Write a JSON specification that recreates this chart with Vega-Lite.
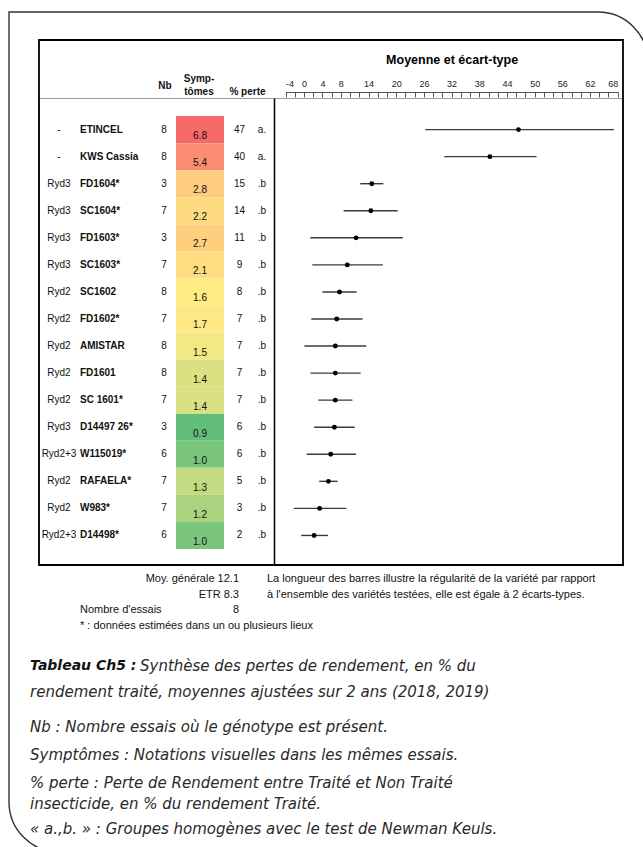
{
  "$schema": "https://vega.github.io/schema/vega-lite/v6.json",
  "width": 584,
  "height": 467,
  "autosize": "none",
  "padding": {"left": 39, "top": 98, "right": 20, "bottom": 282},
  "background": "white",
  "config": {
    "view": {"stroke": "#9a9a9a", "strokeWidth": 1},
    "font": "Liberation Sans",
    "text": {"font": "Liberation Sans", "fontSize": 10, "color": "#111"}
  },
  "datasets": {
    "varietes": [
      {"resistance": "-", "variete": "ETINCEL", "nb": 8, "symptomes": 6.8, "perte": 47, "groupe": "a.", "moyenne": 46.5, "bas": 26.3, "haut": 67.2},
      {"resistance": "-", "variete": "KWS Cassia", "nb": 8, "symptomes": 5.4, "perte": 40, "groupe": "a.", "moyenne": 40.3, "bas": 30.4, "haut": 50.4},
      {"resistance": "Ryd3", "variete": "FD1604*", "nb": 3, "symptomes": 2.8, "perte": 15, "groupe": ".b", "moyenne": 14.7, "bas": 12.2, "haut": 17.2},
      {"resistance": "Ryd3", "variete": "SC1604*", "nb": 7, "symptomes": 2.2, "perte": 14, "groupe": ".b", "moyenne": 14.5, "bas": 8.6, "haut": 20.3},
      {"resistance": "Ryd3", "variete": "FD1603*", "nb": 3, "symptomes": 2.7, "perte": 11, "groupe": ".b", "moyenne": 11.3, "bas": 1.4, "haut": 21.4},
      {"resistance": "Ryd3", "variete": "SC1603*", "nb": 7, "symptomes": 2.1, "perte": 9, "groupe": ".b", "moyenne": 9.4, "bas": 1.8, "haut": 17.1},
      {"resistance": "Ryd2", "variete": "SC1602", "nb": 8, "symptomes": 1.6, "perte": 8, "groupe": ".b", "moyenne": 7.7, "bas": 4.0, "haut": 11.4},
      {"resistance": "Ryd2", "variete": "FD1602*", "nb": 7, "symptomes": 1.7, "perte": 7, "groupe": ".b", "moyenne": 7.1, "bas": 1.6, "haut": 12.7},
      {"resistance": "Ryd2", "variete": "AMISTAR", "nb": 8, "symptomes": 1.5, "perte": 7, "groupe": ".b", "moyenne": 6.8, "bas": 0.1, "haut": 13.5},
      {"resistance": "Ryd2", "variete": "FD1601", "nb": 8, "symptomes": 1.4, "perte": 7, "groupe": ".b", "moyenne": 6.8, "bas": 1.4, "haut": 12.3},
      {"resistance": "Ryd2", "variete": "SC 1601*", "nb": 7, "symptomes": 1.4, "perte": 7, "groupe": ".b", "moyenne": 6.8, "bas": 3.1, "haut": 10.5},
      {"resistance": "Ryd3", "variete": "D14497 26*", "nb": 3, "symptomes": 0.9, "perte": 6, "groupe": ".b", "moyenne": 6.6, "bas": 2.2, "haut": 11.0},
      {"resistance": "Ryd2+3", "variete": "W115019*", "nb": 6, "symptomes": 1.0, "perte": 6, "groupe": ".b", "moyenne": 5.8, "bas": 0.6, "haut": 11.3},
      {"resistance": "Ryd2", "variete": "RAFAELA*", "nb": 7, "symptomes": 1.3, "perte": 5, "groupe": ".b", "moyenne": 5.3, "bas": 3.3, "haut": 7.3},
      {"resistance": "Ryd2", "variete": "W983*", "nb": 7, "symptomes": 1.2, "perte": 3, "groupe": ".b", "moyenne": 3.4, "bas": -2.2, "haut": 9.2},
      {"resistance": "Ryd2+3", "variete": "D14498*", "nb": 6, "symptomes": 1.0, "perte": 2, "groupe": ".b", "moyenne": 2.2, "bas": -0.6, "haut": 5.2}
    ]
  },
  "layer": [
    {
      "data": {"values": [{}]},
      "mark": {"type": "rect", "fill": "transparent", "stroke": "#333", "strokeWidth": 1.4, "cornerRadiusTopRight": 50, "cornerRadiusBottomLeft": 50},
      "encoding": {
        "x": {"datum": "gauche", "type": "nominal", "scale": {"type": "point", "padding": 0, "domain": ["gauche", "droite"], "range": [-30, 609]}, "axis": null},
        "x2": {"datum": "droite"},
        "y": {"datum": "haut", "type": "nominal", "scale": {"type": "point", "padding": 0, "domain": ["haut", "bas"], "range": [-86, 754]}, "axis": null},
        "y2": {"datum": "bas"}
      }
    },
    {
      "data": {"values": [{}]},
      "mark": {"type": "rect", "fill": "transparent", "stroke": "#000", "strokeWidth": 1.8, "yOffset": -58},
      "encoding": {}
    },
    {
      "data": {"name": "varietes"},
      "encoding": {
        "y": {"field": "variete", "type": "nominal", "sort": null,
              "scale": {"type": "band", "paddingInner": 0, "paddingOuter": 0.63, "align": 0.53},
              "axis": {"orient": "left", "offset": -235, "labels": false, "ticks": false, "grid": false, "title": null, "domainColor": "#000", "domainWidth": 1.5}}
      },
      "layer": [
        {
          "mark": {"type": "text", "align": "center", "baseline": "middle"},
          "encoding": {
            "x": {"datum": "résistance", "type": "nominal", "scale": {"type": "point", "padding": 0, "domain": ["résistance", "variété", "Nb", "Symptômes", "% perte", "groupe"], "range": [20, 223]}, "axis": null},
            "text": {"field": "resistance"}
          }
        },
        {
          "mark": {"type": "text", "align": "left", "baseline": "middle", "fontWeight": "bold", "dx": -19.6},
          "encoding": {
            "x": {"datum": "variété", "type": "nominal", "axis": null},
            "text": {"field": "variete"}
          }
        },
        {
          "mark": {"type": "text", "align": "center", "baseline": "middle", "dx": 23.8},
          "encoding": {
            "x": {"datum": "Nb", "type": "nominal", "axis": null},
            "text": {"field": "nb"}
          }
        },
        {
          "mark": {"type": "rect", "width": 48, "xOffset": 19.2},
          "encoding": {
            "x": {"datum": "Symptômes", "type": "nominal", "axis": null},
            "color": {"field": "symptomes", "type": "quantitative", "scale": {"domain": [0.9, 1.55, 6.8], "range": ["#63BE7B", "#FFEB84", "#F8696B"], "interpolate": "rgb"}, "legend": null}
          }
        },
        {
          "mark": {"type": "text", "align": "center", "baseline": "middle", "dx": 19.2, "dy": 6.5},
          "encoding": {
            "x": {"datum": "Symptômes", "type": "nominal", "axis": null},
            "text": {"field": "symptomes", "format": ".1f"}
          }
        },
        {
          "mark": {"type": "text", "align": "center", "baseline": "middle", "dx": 18.1},
          "encoding": {
            "x": {"datum": "% perte", "type": "nominal", "axis": null},
            "text": {"field": "perte"}
          }
        },
        {
          "mark": {"type": "text", "align": "center", "baseline": "middle"},
          "encoding": {
            "x": {"datum": "groupe", "type": "nominal", "axis": null},
            "text": {"field": "groupe"}
          }
        }
      ]
    },
    {
      "data": {"name": "varietes"},
      "encoding": {
        "y": {"field": "variete", "type": "nominal", "sort": null,
              "scale": {"type": "band", "paddingInner": 0, "paddingOuter": 0.63, "align": 0.53},
              "axis": null},
        "x": {"field": "moyenne", "type": "quantitative",
              "scale": {"domain": [-4, 68], "range": [246.5, 578.7], "nice": false, "zero": false},
              "axis": {"orient": "top", "offset": 6, "grid": false,
                       "values": [-4, -2, 0, 2, 4, 6, 8, 10, 12, 14, 16, 18, 20, 22, 24, 26, 28, 30, 32, 34, 36, 38, 40, 42, 44, 46, 48, 50, 52, 54, 56, 58, 60, 62, 64, 66, 68],
                       "labelExpr": "indexof([-4,0,4,8,14,20,26,32,38,44,50,56,62,68], datum.value) >= 0 ? toString(datum.value) : ''",
                       "tickSize": -5, "tickColor": "#555", "tickWidth": 1,
                       "domainColor": "#555", "domainWidth": 1,
                       "labelPadding": 8.5, "labelFontSize": 9, "labelColor": "#222", "labelFont": "Liberation Sans",
                       "labelOverlap": false,
                       "title": "Moyenne et écart-type", "titleFont": "Liberation Sans", "titleFontSize": 12.5, "titleFontWeight": "bold", "titleColor": "#000",
                       "titlePadding": 13}}
      },
      "layer": [
        {
          "mark": {"type": "rule", "color": "#3a3a3a", "strokeWidth": 1.4},
          "encoding": {
            "x": {"field": "bas", "type": "quantitative", "title": "Moyenne et écart-type"},
            "x2": {"field": "haut"}
          }
        },
        {
          "mark": {"type": "point", "filled": true, "color": "#000", "size": 24, "opacity": 1}
        }
      ]
    },
    {
      "layer": [
        {
          "data": {"values": [{"texte": "Nb", "ligne": "milieu"}]},
          "mark": {"type": "text", "fontWeight": "bold", "align": "center", "baseline": "middle", "dx": 24.8},
          "encoding": {
            "x": {"datum": "Nb", "type": "nominal", "scale": {"type": "point", "padding": 0, "domain": ["résistance", "variété", "Nb", "Symptômes", "% perte", "groupe"], "range": [20, 223]}, "axis": null},
            "y": {"field": "ligne", "type": "nominal", "scale": {"type": "point", "padding": 0, "domain": ["haut", "milieu", "bas"], "range": [-19, -6]}, "axis": null},
            "text": {"field": "texte"}
          }
        },
        {
          "data": {"values": [{"texte": "Symp-", "ligne": "haut"}, {"texte": "tômes", "ligne": "bas"}]},
          "mark": {"type": "text", "fontWeight": "bold", "align": "center", "baseline": "middle", "dx": 18.2},
          "encoding": {
            "x": {"datum": "Symptômes", "type": "nominal", "axis": null},
            "y": {"field": "ligne", "type": "nominal", "axis": null},
            "text": {"field": "texte"}
          }
        },
        {
          "data": {"values": [{"texte": "% perte", "ligne": "bas"}]},
          "mark": {"type": "text", "fontWeight": "bold", "align": "center", "baseline": "middle", "dx": 26.1},
          "encoding": {
            "x": {"datum": "% perte", "type": "nominal", "axis": null},
            "y": {"field": "ligne", "type": "nominal", "axis": null},
            "text": {"field": "texte"}
          }
        }
      ]
    },
    {
      "layer": [
        {
          "data": {"values": [{"ligne": "1", "texte": "Moy. générale 12.1"}, {"ligne": "2", "texte": "ETR    8.3"}, {"ligne": "3", "texte": "8"}]},
          "mark": {"type": "text", "align": "right", "baseline": "middle", "fontSize": 11, "dx": 51},
          "encoding": {
            "x": {"datum": "valeurs", "type": "nominal", "scale": {"type": "point", "padding": 0, "domain": ["marge", "gauche", "valeurs", "paragraphe"], "range": [-9, 228]}, "axis": null},
            "y": {"field": "ligne", "type": "ordinal", "scale": {"type": "point", "padding": 0, "domain": ["1", "2", "3", "4"], "range": [481, 528]}, "axis": null},
            "text": {"field": "texte"}
          }
        },
        {
          "data": {"values": [{"ligne": "3", "texte": "Nombre d'essais"}, {"ligne": "4", "texte": "* : données estimées dans un ou plusieurs lieux"}]},
          "mark": {"type": "text", "align": "left", "baseline": "middle", "fontSize": 11, "dx": -29},
          "encoding": {
            "x": {"datum": "gauche", "type": "nominal", "axis": null},
            "y": {"field": "ligne", "type": "ordinal", "axis": null},
            "text": {"field": "texte"}
          }
        },
        {
          "data": {"values": [{"ligne": "1", "texte": "La longueur des barres illustre la régularité de la variété par rapport"}, {"ligne": "2", "texte": "à l'ensemble des variétés testées, elle est égale à 2 écarts-types."}]},
          "mark": {"type": "text", "align": "left", "baseline": "middle", "fontSize": 11},
          "encoding": {
            "x": {"datum": "paragraphe", "type": "nominal", "axis": null},
            "y": {"field": "ligne", "type": "ordinal", "axis": null},
            "text": {"field": "texte"}
          }
        }
      ]
    },
    {
      "layer": [
        {
          "data": {"values": [{"ligne": "1", "texte": "Tableau Ch5 :"}]},
          "mark": {"type": "text", "align": "left", "baseline": "middle", "font": "DejaVu Sans", "fontSize": 14, "fontStyle": "italic", "fontWeight": "bold", "color": "#111"},
          "encoding": {
            "x": {"datum": "marge", "type": "nominal", "scale": {"type": "point", "padding": 0, "domain": ["marge", "gauche", "valeurs", "paragraphe"], "range": [-9, 228]}, "axis": null},
            "y": {"field": "ligne", "type": "ordinal", "scale": {"type": "point", "padding": 0, "domain": ["1", "2"], "range": [568, 594]}, "axis": null},
            "text": {"field": "texte"}
          }
        },
        {
          "data": {"values": [{"ligne": "1", "texte": "Synthèse des pertes de rendement, en % du"}, {"ligne": "2", "texte": "rendement traité, moyennes ajustées sur 2 ans (2018, 2019)"}]},
          "mark": {"type": "text", "align": "left", "baseline": "middle", "font": "DejaVu Sans", "fontSize": 15, "fontStyle": "italic", "fontWeight": 300, "color": "#2a2a2a",
                   "dx": {"expr": "datum.ligne === '1' ? 110 : 0"}},
          "encoding": {
            "x": {"datum": "marge", "type": "nominal", "axis": null},
            "y": {"field": "ligne", "type": "ordinal", "axis": null},
            "text": {"field": "texte"}
          }
        }
      ]
    },
    {
      "data": {"values": [
        {"ligne": "3", "texte": "Nb : Nombre essais où le génotype est présent."},
        {"ligne": "4", "texte": "Symptômes : Notations visuelles dans les mêmes essais."},
        {"ligne": "5", "texte": "% perte : Perte de Rendement entre Traité et Non Traité"}
      ]},
      "mark": {"type": "text", "align": "left", "baseline": "middle", "font": "DejaVu Sans", "fontSize": 15, "fontStyle": "italic", "fontWeight": 300, "color": "#2a2a2a"},
      "encoding": {
        "x": {"datum": "marge", "type": "nominal", "scale": {"type": "point", "padding": 0, "domain": ["marge", "gauche", "valeurs", "paragraphe"], "range": [-9, 228]}, "axis": null},
        "y": {"field": "ligne", "type": "ordinal", "scale": {"type": "point", "padding": 0, "domain": ["3", "4", "5"], "range": [629, 685]}, "axis": null},
        "text": {"field": "texte"}
      }
    },
    {
      "data": {"values": [
        {"ligne": "6", "texte": "insecticide, en % du rendement Traité."},
        {"ligne": "7", "texte": "« a.,b. » : Groupes homogènes avec le test de Newman Keuls."}
      ]},
      "mark": {"type": "text", "align": "left", "baseline": "middle", "font": "DejaVu Sans", "fontSize": 15, "fontStyle": "italic", "fontWeight": 300, "color": "#2a2a2a"},
      "encoding": {
        "x": {"datum": "marge", "type": "nominal", "scale": {"type": "point", "padding": 0, "domain": ["marge", "gauche", "valeurs", "paragraphe"], "range": [-9, 228]}, "axis": null},
        "y": {"field": "ligne", "type": "ordinal", "scale": {"type": "point", "padding": 0, "domain": ["6", "7"], "range": [706, 731]}, "axis": null},
        "text": {"field": "texte"}
      }
    }
  ],
  "resolve": {"scale": {"x": "independent", "y": "independent", "color": "independent"}}
}
